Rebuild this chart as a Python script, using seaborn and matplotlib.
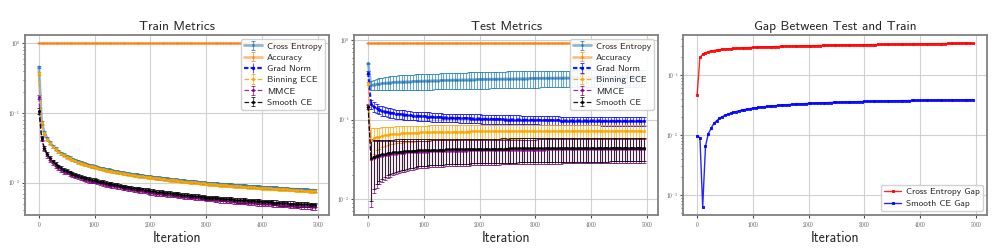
import numpy as np
import matplotlib
matplotlib.use("Agg")
import matplotlib.pyplot as plt
import matplotlib.ticker as mticker
import seaborn as sns

sns.set_style("whitegrid")
plt.rcParams.update({
    "font.family": ["cmss10", "DejaVu Sans"],
    "mathtext.fontset": "cm",
    "axes.unicode_minus": False,
    "axes.edgecolor": "0.5",
    "axes.linewidth": 1.3,
    "grid.color": "0.82",
    "grid.linewidth": 0.8,
    "xtick.bottom": True,
    "ytick.left": True,
    "xtick.major.size": 2.0,
    "ytick.major.size": 2.5,
    "ytick.minor.size": 1.3,
    "ytick.minor.visible": True,
    "xtick.major.pad": 1.5,
    "ytick.major.pad": 1.0,
    "xtick.color": "0.3",
    "ytick.color": "0.3",
})

# iterations logged every 50 steps
iters = list(range(0, 5000, 50))

# ---------------- train metrics (mean) ----------------
train_ce = [
    0.46, 0.0738, 0.0525, 0.0431, 0.0374, 0.0335, 0.0307, 0.0284, 0.0266, 0.0251,
    0.0239, 0.0228, 0.0218, 0.0210, 0.0202, 0.0196, 0.0190, 0.0184, 0.0179, 0.0174,
    0.0170, 0.0166, 0.0162, 0.0159, 0.0155, 0.0152, 0.0150, 0.0147, 0.0144, 0.0142,
    0.0139, 0.0137, 0.0135, 0.0133, 0.0131, 0.0129, 0.0127, 0.0126, 0.0124, 0.0123,
    0.0121, 0.0120, 0.0118, 0.0117, 0.0116, 0.0114, 0.0113, 0.0112, 0.0111, 0.0110,
    0.0109, 0.0107, 0.0106, 0.0105, 0.0104, 0.0104, 0.0103, 0.0102, 0.0101, 0.0100,
    0.0099, 0.0098, 0.0098, 0.0097, 0.0096, 0.0095, 0.0095, 0.0094, 0.0093, 0.0093,
    0.0092, 0.0091, 0.0091, 0.0090, 0.0090, 0.0089, 0.0088, 0.0088, 0.0087, 0.0087,
    0.0086, 0.0086, 0.0085, 0.0085, 0.0084, 0.0084, 0.0083, 0.0083, 0.0082, 0.0082,
    0.0081, 0.0081, 0.0080, 0.0080, 0.0080, 0.0079, 0.0079, 0.0078, 0.0078, 0.0078,
]
train_acc = [
    1.0, 1.0, 1.0, 1.0, 1.0, 1.0, 1.0, 1.0, 1.0, 1.0,
    1.0, 1.0, 1.0, 1.0, 1.0, 1.0, 1.0, 1.0, 1.0, 1.0,
    1.0, 1.0, 1.0, 1.0, 1.0, 1.0, 1.0, 1.0, 1.0, 1.0,
    1.0, 1.0, 1.0, 1.0, 1.0, 1.0, 1.0, 1.0, 1.0, 1.0,
    1.0, 1.0, 1.0, 1.0, 1.0, 1.0, 1.0, 1.0, 1.0, 1.0,
    1.0, 1.0, 1.0, 1.0, 1.0, 1.0, 1.0, 1.0, 1.0, 1.0,
    1.0, 1.0, 1.0, 1.0, 1.0, 1.0, 1.0, 1.0, 1.0, 1.0,
    1.0, 1.0, 1.0, 1.0, 1.0, 1.0, 1.0, 1.0, 1.0, 1.0,
    1.0, 1.0, 1.0, 1.0, 1.0, 1.0, 1.0, 1.0, 1.0, 1.0,
    1.0, 1.0, 1.0, 1.0, 1.0, 1.0, 1.0, 1.0, 1.0, 1.0,
]
# grad norm has no visible train curve (legend entry only)
train_gn = []
train_be = [
    0.37, 0.0722, 0.0514, 0.0422, 0.0366, 0.0328, 0.0301, 0.0278, 0.0261, 0.0246,
    0.0234, 0.0223, 0.0214, 0.0206, 0.0198, 0.0192, 0.0186, 0.0180, 0.0175, 0.0171,
    0.0167, 0.0163, 0.0159, 0.0156, 0.0152, 0.0149, 0.0147, 0.0144, 0.0141, 0.0139,
    0.0136, 0.0134, 0.0132, 0.0130, 0.0128, 0.0126, 0.0124, 0.0123, 0.0122, 0.0121,
    0.0119, 0.0118, 0.0116, 0.0115, 0.0114, 0.0112, 0.0111, 0.0110, 0.0109, 0.0108,
    0.0107, 0.0105, 0.0104, 0.0103, 0.0102, 0.0102, 0.0101, 0.0100, 0.0099, 0.0098,
    0.0097, 0.0096, 0.0096, 0.0095, 0.0094, 0.0093, 0.0093, 0.0092, 0.0091, 0.0091,
    0.0090, 0.0089, 0.0089, 0.0088, 0.0088, 0.0087, 0.0086, 0.0086, 0.0085, 0.0085,
    0.0084, 0.0084, 0.0083, 0.0083, 0.0082, 0.0082, 0.0081, 0.0081, 0.0080, 0.0080,
    0.0079, 0.0079, 0.0078, 0.0078, 0.0078, 0.0077, 0.0077, 0.0076, 0.0076, 0.0076,
]
train_mm = [
    0.17, 0.0420, 0.0300, 0.0246, 0.0214, 0.0192, 0.0176, 0.0163, 0.0153, 0.0144,
    0.0141, 0.0134, 0.0128, 0.0124, 0.0120, 0.0116, 0.0112, 0.0109, 0.0106, 0.0104,
    0.0104, 0.0101, 0.0099, 0.0097, 0.0094, 0.0092, 0.0091, 0.0089, 0.0087, 0.0086,
    0.0084, 0.0083, 0.0082, 0.0080, 0.0079, 0.0078, 0.0077, 0.0076, 0.0075, 0.0074,
    0.0072, 0.0072, 0.0070, 0.0070, 0.0069, 0.0068, 0.0067, 0.0067, 0.0066, 0.0066,
    0.0065, 0.0064, 0.0063, 0.0063, 0.0062, 0.0062, 0.0061, 0.0061, 0.0060, 0.0060,
    0.0058, 0.0058, 0.0058, 0.0057, 0.0057, 0.0056, 0.0056, 0.0055, 0.0055, 0.0055,
    0.0054, 0.0053, 0.0053, 0.0053, 0.0053, 0.0052, 0.0052, 0.0052, 0.0051, 0.0051,
    0.0050, 0.0050, 0.0050, 0.0050, 0.0049, 0.0049, 0.0048, 0.0048, 0.0048, 0.0048,
    0.0047, 0.0047, 0.0047, 0.0047, 0.0046, 0.0046, 0.0046, 0.0046, 0.0045, 0.0045,
]
train_sc = [
    0.107, 0.0443, 0.0315, 0.0259, 0.0225, 0.0202, 0.0185, 0.0171, 0.0161, 0.0152,
    0.0148, 0.0141, 0.0135, 0.0130, 0.0126, 0.0122, 0.0118, 0.0115, 0.0112, 0.0109,
    0.0109, 0.0106, 0.0104, 0.0102, 0.0099, 0.0097, 0.0096, 0.0094, 0.0092, 0.0091,
    0.0088, 0.0087, 0.0086, 0.0084, 0.0083, 0.0082, 0.0081, 0.0080, 0.0079, 0.0078,
    0.0076, 0.0076, 0.0074, 0.0074, 0.0073, 0.0072, 0.0071, 0.0071, 0.0070, 0.0069,
    0.0068, 0.0067, 0.0066, 0.0066, 0.0065, 0.0065, 0.0064, 0.0064, 0.0063, 0.0063,
    0.0061, 0.0061, 0.0061, 0.0060, 0.0060, 0.0059, 0.0059, 0.0058, 0.0058, 0.0058,
    0.0057, 0.0056, 0.0056, 0.0056, 0.0056, 0.0055, 0.0055, 0.0055, 0.0054, 0.0054,
    0.0053, 0.0053, 0.0053, 0.0053, 0.0052, 0.0052, 0.0051, 0.0051, 0.0051, 0.0051,
    0.0050, 0.0050, 0.0049, 0.0049, 0.0049, 0.0049, 0.0049, 0.0048, 0.0048, 0.0048,
]
# train error bars: upper group (CE, binning) and lower group (MMCE, smooth CE)
train_err_hi = [
    0.020, 0.0040, 0.0028, 0.0023, 0.0019, 0.0017, 0.0016, 0.0015, 0.0014, 0.0013,
    0.0012, 0.0012, 0.0011, 0.0011, 0.0010, 0.0010, 0.0010, 0.0009, 0.0009, 0.0009,
    0.0009, 0.0008, 0.0008, 0.0008, 0.0008, 0.0008, 0.0008, 0.0007, 0.0007, 0.0007,
    0.0007, 0.0007, 0.0007, 0.0007, 0.0007, 0.0007, 0.0007, 0.0007, 0.0007, 0.0007,
    0.0006, 0.0006, 0.0006, 0.0006, 0.0006, 0.0006, 0.0006, 0.0006, 0.0006, 0.0006,
    0.00055, 0.00055, 0.00055, 0.00055, 0.00055, 0.00055, 0.00055, 0.00055, 0.00055, 0.00055,
    0.0005, 0.0005, 0.0005, 0.0005, 0.0005, 0.0005, 0.0005, 0.0005, 0.0005, 0.0005,
    0.0005, 0.0005, 0.0005, 0.0005, 0.0005, 0.0005, 0.0005, 0.0005, 0.0005, 0.0005,
    0.00045, 0.00045, 0.00045, 0.00045, 0.00045, 0.00045, 0.00045, 0.00045, 0.00045, 0.00045,
    0.0004, 0.0004, 0.0004, 0.0004, 0.0004, 0.0004, 0.0004, 0.0004, 0.0004, 0.0004,
]
train_err_lo = [
    0.010, 0.0027, 0.0019, 0.0016, 0.0014, 0.0012, 0.0011, 0.0010, 0.0010, 0.0009,
    0.0009, 0.0008, 0.0008, 0.0008, 0.0007, 0.0007, 0.0007, 0.0007, 0.0007, 0.0006,
    0.0006, 0.0006, 0.0006, 0.0006, 0.0006, 0.0006, 0.00058, 0.00056, 0.00055, 0.00054,
    0.00053, 0.00052, 0.00051, 0.00050, 0.00050, 0.00049, 0.00049, 0.00048, 0.00047, 0.00047,
    0.00046, 0.00046, 0.00046, 0.00046, 0.00046, 0.00045, 0.00045, 0.00045, 0.00045, 0.00045,
    0.00044, 0.00044, 0.00044, 0.00044, 0.00044, 0.00043, 0.00043, 0.00043, 0.00043, 0.00043,
    0.00042, 0.00042, 0.00042, 0.00042, 0.00042, 0.00041, 0.00041, 0.00041, 0.00041, 0.00041,
    0.00040, 0.00040, 0.00040, 0.00040, 0.00040, 0.00040, 0.00040, 0.00040, 0.00040, 0.00040,
    0.00039, 0.00039, 0.00039, 0.00039, 0.00039, 0.00039, 0.00039, 0.00039, 0.00039, 0.00039,
    0.00038, 0.00038, 0.00038, 0.00038, 0.00038, 0.00038, 0.00038, 0.00038, 0.00038, 0.00038,
]

# ---------------- test metrics (mean, std) ----------------
test_ce = [
    0.51, 0.270, 0.274, 0.278, 0.281, 0.284, 0.287, 0.289, 0.291, 0.293,
    0.295, 0.296, 0.297, 0.298, 0.299, 0.300, 0.301, 0.302, 0.303, 0.304,
    0.305, 0.306, 0.307, 0.308, 0.309, 0.309, 0.310, 0.311, 0.312, 0.312,
    0.313, 0.314, 0.314, 0.315, 0.316, 0.316, 0.317, 0.318, 0.318, 0.319,
    0.320, 0.320, 0.321, 0.321, 0.322, 0.322, 0.323, 0.323, 0.324, 0.324,
    0.325, 0.325, 0.326, 0.326, 0.327, 0.327, 0.328, 0.328, 0.329, 0.329,
    0.330, 0.330, 0.331, 0.331, 0.331, 0.332, 0.332, 0.332, 0.333, 0.333,
    0.333, 0.334, 0.334, 0.334, 0.335, 0.335, 0.335, 0.335, 0.336, 0.336,
    0.336, 0.336, 0.337, 0.337, 0.337, 0.337, 0.337, 0.338, 0.338, 0.338,
    0.338, 0.338, 0.338, 0.339, 0.339, 0.339, 0.339, 0.339, 0.339, 0.340,
]
test_ce_std = [
    0.010, 0.035, 0.040, 0.044, 0.048, 0.051, 0.054, 0.056, 0.058, 0.060,
    0.062, 0.063, 0.064, 0.064, 0.065, 0.066, 0.066, 0.067, 0.067, 0.068,
    0.068, 0.069, 0.069, 0.070, 0.070, 0.070, 0.071, 0.071, 0.072, 0.072,
    0.072, 0.073, 0.073, 0.073, 0.074, 0.074, 0.074, 0.074, 0.075, 0.075,
    0.075, 0.075, 0.076, 0.076, 0.076, 0.076, 0.076, 0.077, 0.077, 0.077,
    0.077, 0.077, 0.077, 0.077, 0.078, 0.078, 0.078, 0.078, 0.078, 0.078,
    0.078, 0.078, 0.078, 0.078, 0.078, 0.079, 0.079, 0.079, 0.079, 0.079,
    0.079, 0.079, 0.079, 0.079, 0.079, 0.079, 0.079, 0.079, 0.079, 0.079,
    0.079, 0.079, 0.079, 0.080, 0.080, 0.080, 0.080, 0.080, 0.080, 0.080,
    0.080, 0.080, 0.080, 0.080, 0.080, 0.080, 0.080, 0.080, 0.080, 0.080,
]
test_acc = [
    0.905, 0.905, 0.905, 0.905, 0.905, 0.905, 0.905, 0.905, 0.905, 0.905,
    0.905, 0.905, 0.905, 0.905, 0.905, 0.905, 0.905, 0.905, 0.905, 0.905,
    0.905, 0.905, 0.905, 0.905, 0.905, 0.905, 0.905, 0.905, 0.905, 0.905,
    0.905, 0.905, 0.905, 0.905, 0.905, 0.905, 0.905, 0.905, 0.905, 0.905,
    0.905, 0.905, 0.905, 0.905, 0.905, 0.905, 0.905, 0.905, 0.905, 0.905,
    0.905, 0.905, 0.905, 0.905, 0.905, 0.905, 0.905, 0.905, 0.905, 0.905,
    0.905, 0.905, 0.905, 0.905, 0.905, 0.905, 0.905, 0.905, 0.905, 0.905,
    0.905, 0.905, 0.905, 0.905, 0.905, 0.905, 0.905, 0.905, 0.905, 0.905,
    0.905, 0.905, 0.905, 0.905, 0.905, 0.905, 0.905, 0.905, 0.905, 0.905,
    0.905, 0.905, 0.905, 0.905, 0.905, 0.905, 0.905, 0.905, 0.905, 0.905,
]
test_gn = [
    0.39, 0.155, 0.145, 0.138, 0.133, 0.129, 0.126, 0.124, 0.122, 0.120,
    0.118, 0.117, 0.116, 0.115, 0.114, 0.113, 0.112, 0.112, 0.111, 0.110,
    0.110, 0.109, 0.109, 0.108, 0.108, 0.107, 0.107, 0.106, 0.106, 0.106,
    0.105, 0.105, 0.105, 0.104, 0.104, 0.104, 0.104, 0.103, 0.103, 0.103,
    0.103, 0.102, 0.102, 0.102, 0.102, 0.101, 0.101, 0.101, 0.101, 0.100,
    0.100, 0.100, 0.100, 0.100, 0.100, 0.099, 0.099, 0.099, 0.099, 0.099,
    0.099, 0.099, 0.098, 0.098, 0.098, 0.098, 0.098, 0.098, 0.098, 0.097,
    0.097, 0.097, 0.097, 0.097, 0.097, 0.097, 0.097, 0.097, 0.097, 0.097,
    0.097, 0.097, 0.097, 0.097, 0.096, 0.096, 0.096, 0.096, 0.096, 0.096,
    0.096, 0.096, 0.096, 0.096, 0.096, 0.096, 0.096, 0.096, 0.096, 0.096,
]
test_gn_std = [
    0.020, 0.020, 0.019, 0.018, 0.017, 0.017, 0.016, 0.016, 0.016, 0.015,
    0.015, 0.015, 0.015, 0.015, 0.015, 0.014, 0.014, 0.014, 0.014, 0.014,
    0.014, 0.014, 0.014, 0.014, 0.014, 0.014, 0.014, 0.013, 0.013, 0.013,
    0.013, 0.013, 0.013, 0.013, 0.013, 0.013, 0.013, 0.013, 0.013, 0.013,
    0.013, 0.013, 0.013, 0.013, 0.013, 0.013, 0.013, 0.013, 0.013, 0.013,
    0.013, 0.013, 0.013, 0.013, 0.013, 0.012, 0.012, 0.012, 0.012, 0.012,
    0.012, 0.012, 0.012, 0.012, 0.012, 0.012, 0.012, 0.012, 0.012, 0.012,
    0.012, 0.012, 0.012, 0.012, 0.012, 0.012, 0.012, 0.012, 0.012, 0.012,
    0.012, 0.012, 0.012, 0.012, 0.012, 0.012, 0.012, 0.012, 0.012, 0.012,
    0.012, 0.012, 0.012, 0.012, 0.012, 0.012, 0.012, 0.012, 0.012, 0.012,
]
test_be = [
    0.285, 0.055, 0.058, 0.060, 0.061, 0.062, 0.063, 0.064, 0.065, 0.0655,
    0.066, 0.0665, 0.067, 0.0673, 0.0676, 0.0679, 0.0682, 0.0685, 0.0687, 0.0689,
    0.0690, 0.0692, 0.0694, 0.0695, 0.0697, 0.0698, 0.0699, 0.0700, 0.0701, 0.0702,
    0.0703, 0.0704, 0.0705, 0.0705, 0.0706, 0.0707, 0.0707, 0.0708, 0.0709, 0.0709,
    0.0710, 0.0710, 0.0711, 0.0711, 0.0712, 0.0712, 0.0712, 0.0713, 0.0713, 0.0713,
    0.0714, 0.0714, 0.0714, 0.0715, 0.0715, 0.0715, 0.0715, 0.0716, 0.0716, 0.0716,
    0.0716, 0.0716, 0.0717, 0.0717, 0.0717, 0.0717, 0.0717, 0.0718, 0.0718, 0.0718,
    0.0718, 0.0718, 0.0718, 0.0718, 0.0718, 0.0719, 0.0719, 0.0719, 0.0719, 0.0719,
    0.0719, 0.0719, 0.0719, 0.0719, 0.0719, 0.0720, 0.0720, 0.0720, 0.0720, 0.0720,
    0.0720, 0.0720, 0.0720, 0.0720, 0.0720, 0.0720, 0.0720, 0.0720, 0.0720, 0.0720,
]
test_be_std = [
    0.010, 0.024, 0.021, 0.019, 0.018, 0.0175, 0.017, 0.0167, 0.0164, 0.0162,
    0.0160, 0.0158, 0.0157, 0.0156, 0.0155, 0.0154, 0.0153, 0.0152, 0.0151, 0.0150,
    0.0150, 0.0149, 0.0149, 0.0148, 0.0148, 0.0147, 0.0147, 0.0146, 0.0146, 0.0145,
    0.0145, 0.0145, 0.0144, 0.0144, 0.0144, 0.0143, 0.0143, 0.0143, 0.0142, 0.0142,
    0.0142, 0.0141, 0.0141, 0.0141, 0.0140, 0.0140, 0.0140, 0.0140, 0.0139, 0.0139,
    0.0139, 0.0138, 0.0138, 0.0138, 0.0138, 0.0137, 0.0137, 0.0137, 0.0137, 0.0136,
    0.0136, 0.0136, 0.0136, 0.0135, 0.0135, 0.0135, 0.0135, 0.0134, 0.0134, 0.0134,
    0.0134, 0.0133, 0.0133, 0.0133, 0.0133, 0.0132, 0.0132, 0.0132, 0.0132, 0.0132,
    0.0131, 0.0131, 0.0131, 0.0131, 0.0131, 0.0131, 0.0131, 0.0131, 0.0131, 0.0131,
    0.0130, 0.0130, 0.0130, 0.0130, 0.0130, 0.0130, 0.0130, 0.0130, 0.0130, 0.0130,
]
test_mm = [
    0.150, 0.0318, 0.0327, 0.0336, 0.0344, 0.0350, 0.0356, 0.0361, 0.0366, 0.0371,
    0.0374, 0.0377, 0.0380, 0.0382, 0.0385, 0.0387, 0.0389, 0.0391, 0.0393, 0.0395,
    0.0396, 0.0396, 0.0397, 0.0398, 0.0399, 0.0400, 0.0401, 0.0402, 0.0403, 0.0403,
    0.0404, 0.0405, 0.0405, 0.0406, 0.0407, 0.0407, 0.0408, 0.0409, 0.0409, 0.0410,
    0.0411, 0.0411, 0.0412, 0.0412, 0.0413, 0.0413, 0.0414, 0.0414, 0.0415, 0.0415,
    0.0415, 0.0416, 0.0416, 0.0416, 0.0417, 0.0417, 0.0417, 0.0418, 0.0418, 0.0418,
    0.0418, 0.0419, 0.0419, 0.0419, 0.0420, 0.0420, 0.0420, 0.0420, 0.0420, 0.0420,
    0.0421, 0.0421, 0.0421, 0.0421, 0.0422, 0.0422, 0.0422, 0.0422, 0.0422, 0.0422,
    0.0423, 0.0423, 0.0423, 0.0423, 0.0423, 0.0423, 0.0423, 0.0423, 0.0423, 0.0423,
    0.0424, 0.0424, 0.0424, 0.0424, 0.0424, 0.0424, 0.0424, 0.0424, 0.0424, 0.0424,
]
test_mm_std = [
    0.008, 0.0238, 0.0208, 0.0197, 0.0190, 0.0184, 0.0180, 0.0177, 0.0174, 0.0172,
    0.0170, 0.0167, 0.0164, 0.0161, 0.0158, 0.0156, 0.0154, 0.0152, 0.0150, 0.0149,
    0.0148, 0.0148, 0.0147, 0.0147, 0.0147, 0.0146, 0.0146, 0.0146, 0.0146, 0.0145,
    0.0145, 0.0145, 0.0145, 0.0145, 0.0145, 0.0144, 0.0144, 0.0144, 0.0144, 0.0144,
    0.0144, 0.0144, 0.0144, 0.0144, 0.0144, 0.0143, 0.0143, 0.0143, 0.0143, 0.0143,
    0.0143, 0.0143, 0.0143, 0.0143, 0.0143, 0.0142, 0.0142, 0.0142, 0.0142, 0.0142,
    0.0142, 0.0142, 0.0142, 0.0142, 0.0142, 0.0142, 0.0142, 0.0142, 0.0142, 0.0142,
    0.0141, 0.0141, 0.0141, 0.0141, 0.0141, 0.0141, 0.0141, 0.0141, 0.0141, 0.0141,
    0.0141, 0.0141, 0.0141, 0.0141, 0.0141, 0.0140, 0.0140, 0.0140, 0.0140, 0.0140,
    0.0140, 0.0140, 0.0140, 0.0140, 0.0140, 0.0140, 0.0140, 0.0140, 0.0140, 0.0140,
]
test_sc = [
    0.145, 0.0330, 0.0340, 0.0350, 0.0358, 0.0365, 0.0371, 0.0376, 0.0381, 0.0386,
    0.0390, 0.0393, 0.0396, 0.0398, 0.0401, 0.0403, 0.0405, 0.0407, 0.0409, 0.0411,
    0.0412, 0.0413, 0.0414, 0.0415, 0.0416, 0.0417, 0.0418, 0.0419, 0.0420, 0.0420,
    0.0421, 0.0422, 0.0422, 0.0423, 0.0424, 0.0424, 0.0425, 0.0426, 0.0426, 0.0427,
    0.0428, 0.0428, 0.0429, 0.0429, 0.0430, 0.0430, 0.0431, 0.0431, 0.0432, 0.0432,
    0.0432, 0.0433, 0.0433, 0.0433, 0.0434, 0.0434, 0.0434, 0.0435, 0.0435, 0.0435,
    0.0435, 0.0436, 0.0436, 0.0436, 0.0437, 0.0437, 0.0437, 0.0437, 0.0438, 0.0438,
    0.0438, 0.0438, 0.0439, 0.0439, 0.0439, 0.0439, 0.0440, 0.0440, 0.0440, 0.0440,
    0.0440, 0.0441, 0.0441, 0.0441, 0.0441, 0.0441, 0.0441, 0.0442, 0.0442, 0.0442,
    0.0442, 0.0442, 0.0442, 0.0442, 0.0442, 0.0442, 0.0442, 0.0442, 0.0442, 0.0442,
]
test_sc_std = [
    0.008, 0.0235, 0.0205, 0.0195, 0.0190, 0.0185, 0.0181, 0.0178, 0.0176, 0.0174,
    0.0172, 0.0169, 0.0166, 0.0163, 0.0160, 0.0158, 0.0156, 0.0154, 0.0152, 0.0151,
    0.0150, 0.0150, 0.0149, 0.0149, 0.0149, 0.0148, 0.0148, 0.0148, 0.0148, 0.0147,
    0.0147, 0.0147, 0.0147, 0.0147, 0.0147, 0.0146, 0.0146, 0.0146, 0.0146, 0.0146,
    0.0146, 0.0146, 0.0146, 0.0146, 0.0146, 0.0146, 0.0146, 0.0146, 0.0146, 0.0146,
    0.0145, 0.0145, 0.0145, 0.0145, 0.0145, 0.0145, 0.0145, 0.0145, 0.0145, 0.0145,
    0.0145, 0.0145, 0.0145, 0.0145, 0.0145, 0.0145, 0.0145, 0.0145, 0.0145, 0.0145,
    0.0145, 0.0145, 0.0145, 0.0145, 0.0145, 0.0145, 0.0145, 0.0145, 0.0145, 0.0145,
    0.0145, 0.0145, 0.0145, 0.0145, 0.0145, 0.0145, 0.0145, 0.0145, 0.0145, 0.0145,
    0.0145, 0.0145, 0.0145, 0.0145, 0.0145, 0.0145, 0.0145, 0.0145, 0.0145, 0.0145,
]

# ---------------- gap between test and train ----------------
gap_ce = [
    0.047, 0.196, 0.222, 0.235, 0.244, 0.251, 0.256, 0.261, 0.264, 0.268,
    0.271, 0.273, 0.275, 0.277, 0.279, 0.280, 0.282, 0.284, 0.285, 0.287,
    0.288, 0.289, 0.291, 0.292, 0.294, 0.294, 0.295, 0.296, 0.298, 0.298,
    0.299, 0.300, 0.301, 0.302, 0.303, 0.303, 0.304, 0.305, 0.306, 0.307,
    0.308, 0.308, 0.309, 0.309, 0.310, 0.311, 0.312, 0.312, 0.313, 0.313,
    0.314, 0.314, 0.315, 0.316, 0.317, 0.317, 0.318, 0.318, 0.319, 0.319,
    0.320, 0.320, 0.321, 0.321, 0.321, 0.323, 0.323, 0.323, 0.324, 0.324,
    0.325, 0.325, 0.326, 0.326, 0.327, 0.327, 0.328, 0.328, 0.329, 0.329,
    0.330, 0.330, 0.331, 0.331, 0.332, 0.332, 0.333, 0.333, 0.334, 0.334,
    0.335, 0.335, 0.336, 0.336, 0.336, 0.337, 0.337, 0.337, 0.338, 0.338,
]
gap_sc = [
    0.0097, 0.0090, 0.00064, 0.0065, 0.0105, 0.0129, 0.0156, 0.0173, 0.0189, 0.0202,
    0.0213, 0.0222, 0.0231, 0.0239, 0.0246, 0.0253, 0.0259, 0.0265, 0.0270, 0.0275,
    0.0280, 0.0284, 0.0288, 0.0292, 0.0296, 0.0299, 0.0302, 0.0305, 0.0308, 0.0311,
    0.0314, 0.0317, 0.0319, 0.0322, 0.0324, 0.0326, 0.0328, 0.0330, 0.0332, 0.0334,
    0.0336, 0.0337, 0.0339, 0.0341, 0.0342, 0.0344, 0.0345, 0.0347, 0.0348, 0.0350,
    0.0351, 0.0352, 0.0353, 0.0355, 0.0356, 0.0357, 0.0358, 0.0359, 0.0360, 0.0361,
    0.0362, 0.0363, 0.0364, 0.0365, 0.0366, 0.0367, 0.0367, 0.0368, 0.0369, 0.0370,
    0.0371, 0.0371, 0.0372, 0.0373, 0.0374, 0.0374, 0.0375, 0.0376, 0.0376, 0.0377,
    0.0378, 0.0378, 0.0379, 0.0379, 0.0380, 0.0381, 0.0381, 0.0382, 0.0382, 0.0383,
    0.0383, 0.0384, 0.0384, 0.0385, 0.0385, 0.0386, 0.0386, 0.0387, 0.0387, 0.0388,
]

# line style for each metric: colour, linestyle, linewidth, alpha of the mean line
styles = {
    "Cross Entropy": ("tab:blue", "-", 2.0, 0.5),
    "Accuracy": ("tab:orange", "-", 2.0, 0.5),
    "Grad Norm": ("blue", (0, (2, 1)), 1.6, 0.9),
    "Binning ECE": ("orange", "--", 0.9, 0.9),
    "MMCE": ("purple", "--", 0.9, 0.8),
    "Smooth CE": ("black", "--", 0.9, 0.9),
}


def draw_metric(ax, name, mean, err):
    color, ls, lw, a = styles[name]
    x = iters[:len(mean)]
    if len(mean) == 0:
        err = []
    cont = ax.errorbar(x, mean, yerr=err, color=color, ls=ls, lw=lw,
                       marker=".", ms=2.5, capsize=1.6, elinewidth=0.8,
                       capthick=0.7, label=name)
    cont[0].set_alpha(a)
    for c in cont[1]:
        c.set_alpha(0.75)
    for c in cont[2]:
        c.set_alpha(0.65)


def log_axis(ax, ylim):
    ax.set_yscale("log")
    ax.set_xlim(-247.5, 5197.5)
    ax.set_ylim(*ylim)
    ax.yaxis.set_major_locator(mticker.LogLocator(base=10))
    ax.yaxis.set_major_formatter(mticker.FuncFormatter(
        lambda v, p: r"$10^{%d}$" % int(round(np.log10(v)))))
    ax.yaxis.set_minor_formatter(mticker.NullFormatter())
    ax.set_xticks([0, 1000, 2000, 3000, 4000, 5000])
    ax.xaxis.set_major_formatter(mticker.FuncFormatter(lambda v, p: r"$%d$" % v))
    ax.tick_params(axis="both", which="major", labelsize=3.8)
    ax.set_xlabel("Iteration", fontsize=10, labelpad=1.5)
    ax.grid(True, which="major")
    ax.grid(False, which="minor")


fig = plt.figure(figsize=(9.97, 2.49), dpi=100)
ax1 = fig.add_axes([0.0251, 0.1365, 0.3049, 0.7229])
ax2 = fig.add_axes([0.3554, 0.1365, 0.3046, 0.7229])
ax3 = fig.add_axes([0.6854, 0.1365, 0.3043, 0.7229])

# train panel
draw_metric(ax1, "Cross Entropy", train_ce, train_err_hi)
draw_metric(ax1, "Accuracy", train_acc, 0.0)
draw_metric(ax1, "Grad Norm", train_gn, [])
draw_metric(ax1, "Binning ECE", train_be, train_err_hi)
draw_metric(ax1, "MMCE", train_mm, train_err_lo)
draw_metric(ax1, "Smooth CE", train_sc, train_err_lo)
log_axis(ax1, (0.00344, 1.316))
ax1.set_title("Train Metrics", fontsize=9.6, pad=3.5)

# test panel
draw_metric(ax2, "Cross Entropy", test_ce, test_ce_std)
draw_metric(ax2, "Accuracy", test_acc, 0.0)
draw_metric(ax2, "Grad Norm", test_gn, test_gn_std)
draw_metric(ax2, "Binning ECE", test_be, test_be_std)
draw_metric(ax2, "MMCE", test_mm, test_mm_std)
draw_metric(ax2, "Smooth CE", test_sc, test_sc_std)
log_axis(ax2, (0.0063, 1.156))
ax2.set_title("Test Metrics", fontsize=9.6, pad=3.5)

for ax in (ax1, ax2):
    ax.legend(loc="upper right", fontsize=6.8, borderaxespad=0.4, labelspacing=0.28,
              borderpad=0.35, handlelength=1.9, handletextpad=0.5,
              framealpha=0.9, edgecolor="0.8")

# gap panel
sns.lineplot(x=iters, y=gap_ce, ax=ax3, color="red", marker="s", markersize=1.8,
             markeredgecolor="red", lw=1.0, alpha=0.85, label="Cross Entropy Gap")
sns.lineplot(x=iters, y=gap_sc, ax=ax3, color="blue", marker="s", markersize=1.8,
             markeredgecolor="blue", lw=1.0, alpha=0.85, label="Smooth CE Gap")
log_axis(ax3, (0.000464, 0.464))
ax3.set_title("Gap Between Test and Train", fontsize=9.6, pad=3.5)
ax3.legend(loc="lower right", fontsize=6.8, borderaxespad=0.4, labelspacing=0.3,
           borderpad=0.35, handlelength=1.8, handletextpad=0.5,
           framealpha=0.9, edgecolor="0.8")

fig.savefig("out.png", dpi=100)
